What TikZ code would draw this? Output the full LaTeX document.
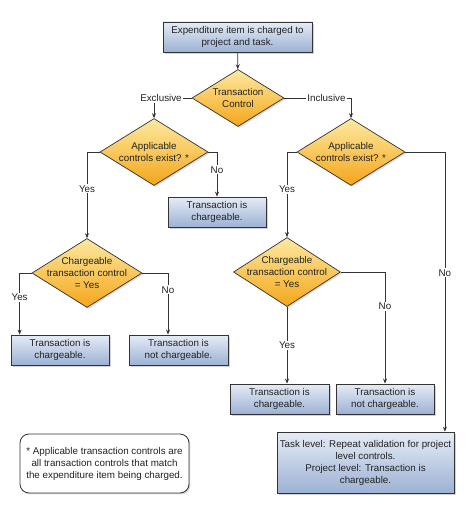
\documentclass[tikz,border=0pt]{standalone}
\usepackage{fontspec}
\setmainfont{Liberation Sans}
\usetikzlibrary{shapes.geometric,shadows,arrows.meta,calc}
\definecolor{boxtop}{HTML}{E6ECF6}
\definecolor{boxbot}{HTML}{9CB1D4}
\definecolor{diatop}{HTML}{FDE9A0}
\definecolor{diabot}{HTML}{F4A61A}
\definecolor{linec}{HTML}{333333}
\definecolor{txt}{HTML}{222222}
\tikzset{
  every node/.style={font=\fontsize{9.8}{12}\selectfont, text=txt},
  procbox/.style={rectangle, draw=linec, line width=0.8pt, top color=boxtop, bottom color=boxbot,
    align=center, inner sep=0pt, drop shadow={shadow xshift=1.6pt, shadow yshift=-1.6pt, opacity=0.35}},
  decision/.style={diamond, draw=linec, line width=0.7pt, top color=diatop, bottom color=diabot,
    inner sep=0pt, drop shadow={shadow xshift=1.4pt, shadow yshift=-1.4pt, opacity=0.3}},
  notebox/.style={rectangle, rounded corners=9pt, draw=linec, line width=0.8pt, fill=white,
    align=center, inner sep=0pt, drop shadow={shadow xshift=1.4pt, shadow yshift=-1.4pt, opacity=0.3}},
  conn/.style={draw=linec, line width=0.7pt},
  arr/.style={conn, -{Stealth[length=5pt,width=4pt]}},
  lbl/.style={fill=white, inner sep=1.2pt},
  dtext/.style={label={[align=center, inner sep=0pt]center:#1}}
}
\begin{document}
\begin{tikzpicture}[x=1pt,y=-1pt]
\useasboundingbox (0,0) rectangle (474,513);

\node[procbox, minimum width=149pt, minimum height=30pt] (start) at (237.5,37) {Expenditure item is charged to\\project and task.};
\node[decision, minimum width=92pt, minimum height=57pt, dtext={Transaction\\Control}] (tc) at (238,98) {};
\node[decision, minimum width=108pt, minimum height=67pt, dtext={Applicable\\controls exist? *}] (d1) at (154,152) {};
\node[decision, minimum width=108pt, minimum height=67pt, dtext={Applicable\\controls exist? *}] (d2) at (351,152) {};
\node[procbox, minimum width=98pt, minimum height=30pt] (b1) at (217,212) {Transaction is\\chargeable.};
\node[decision, minimum width=110pt, minimum height=69pt, dtext={Chargeable\\transaction control\\= Yes}] (c1) at (87,273) {};
\node[decision, minimum width=107pt, minimum height=69pt, dtext={Chargeable\\transaction control\\= Yes}] (c2) at (287,272) {};
\node[procbox, minimum width=98pt, minimum height=30pt] (b2) at (60,350) {Transaction is\\chargeable.};
\node[procbox, minimum width=99pt, minimum height=30pt] (b3) at (178.5,350) {Transaction is\\not chargeable.};
\node[procbox, minimum width=99pt, minimum height=30pt] (b4) at (279.5,399) {Transaction is\\chargeable.};
\node[procbox, minimum width=98pt, minimum height=30pt] (b5) at (385,399) {Transaction is\\not chargeable.};
\node[procbox, minimum width=177pt, minimum height=61pt] (b6) at (365.5,462.5) {Task level: Repeat validation for project\\level controls.\\Project level: Transaction is\\chargeable.};
\node[notebox, minimum width=169pt, minimum height=59pt] (note) at (104.5,463.5) {* Applicable transaction controls are\\all transaction controls that match\\the expenditure item being charged.};

\node[inner sep=1.5pt] (excl) at (161,98) {Exclusive};
\node[inner sep=1.5pt] (incl) at (326.5,98) {Inclusive};

\draw[arr] (start) -- (tc);
\draw[conn] (tc.west) -- (excl.east);
\draw[arr] (excl.south -| d1.north) -- (d1.north);
\draw[conn] (tc.east) -- (incl.west);
\draw[arr] (incl.east) -| (d2.north);

\draw[arr] (d1.west) -| node[lbl, pos=0.713] {Yes} (c1.north);
\draw[arr] (d1.east) -| node[lbl, pos=0.70] {No} (b1.north);

\draw[arr] (c1.west) -| node[lbl, pos=0.70] {Yes} ([xshift=9pt]b2.north west);
\draw[arr] (c1.east) -| node[lbl, pos=0.637] {No} ([xshift=-10.5pt]b3.north);

\draw[arr] (d2.west) -| node[lbl, pos=0.72] {Yes} (c2.north);
\draw[arr] (d2.east) -| node[lbl, pos=0.716] {No} ([xshift=-9.5pt]b6.north east);

\draw[arr] (c2.south) -- node[lbl, pos=0.5] {Yes} (c2.south |- b4.north);
\draw[arr] (c2.east) -| node[lbl, pos=0.653] {No} (b5.north);
\end{tikzpicture}
\end{document}
